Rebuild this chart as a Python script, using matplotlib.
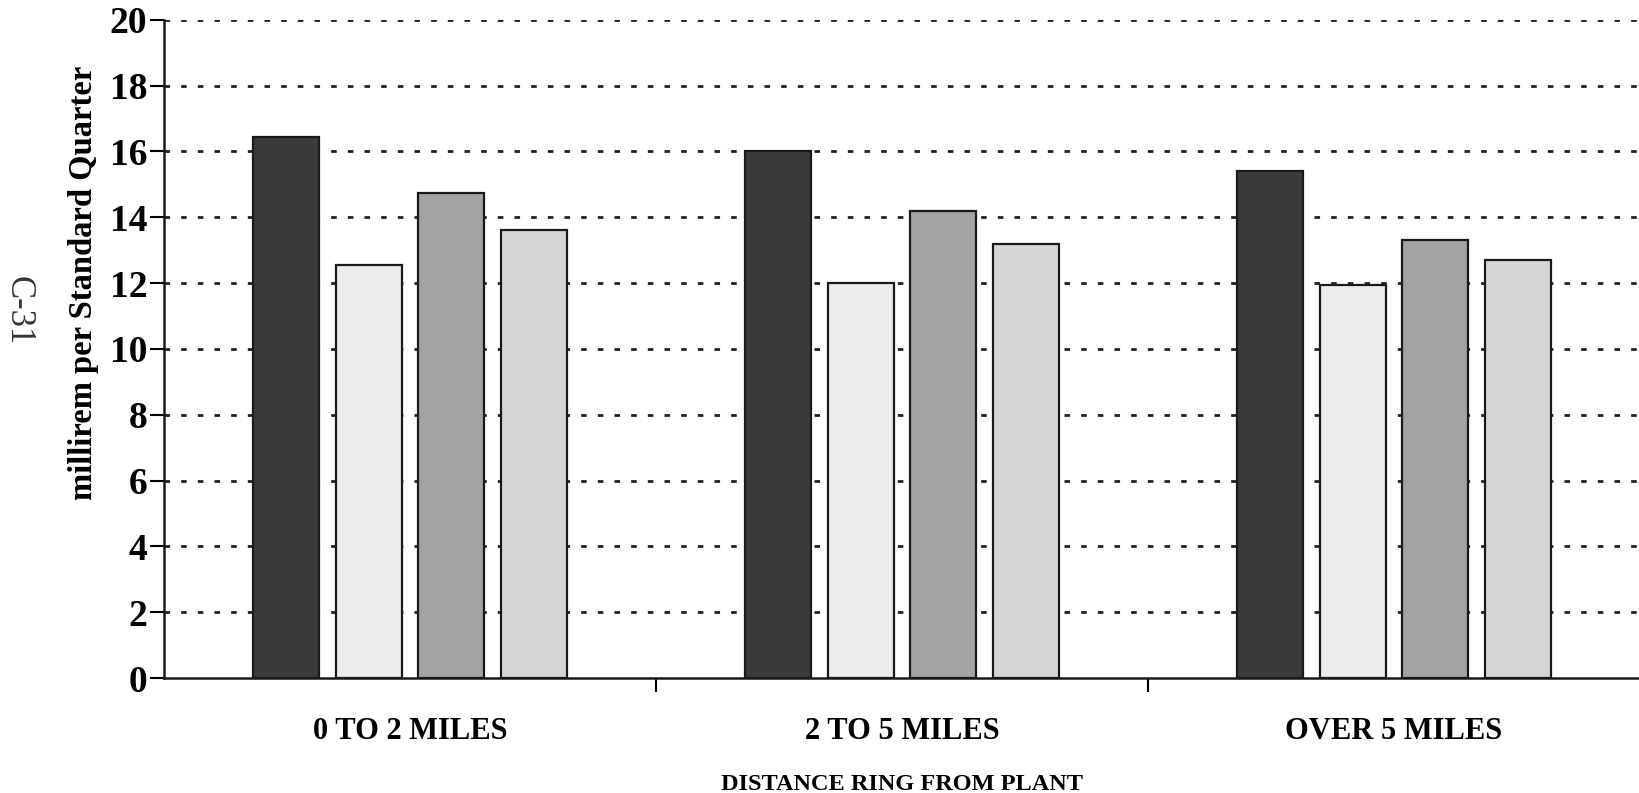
import numpy as np
import matplotlib
matplotlib.use('Agg')
import matplotlib.pyplot as plt

# Data
categories = ['0 TO 2 MILES', '2 TO 5 MILES', 'OVER 5 MILES']
series_1 = [16.45, 16.0, 15.4]
series_2 = [12.55, 12.0, 11.95]
series_3 = [14.75, 14.2, 13.3]
series_4 = [13.6, 13.2, 12.7]
y_ticks = [0, 2, 4, 6, 8, 10, 12, 14, 16, 18, 20]

colors = ['#3b3b3b', '#ececec', '#a3a3a3', '#d6d6d6']

plt.rcParams['font.family'] = ['Liberation Serif', 'DejaVu Serif']

fig = plt.figure(figsize=(16.4, 7.93), dpi=100)
ax = fig.add_axes([0.1, 0.145, 0.9, 0.83])

x = np.arange(len(categories))
pitch = 0.168
width = 0.134
for i, vals in enumerate([series_1, series_2, series_3, series_4]):
    ax.bar(x + (i - 1.5) * pitch, vals, width, color=colors[i],
           edgecolor='#1a1a1a', linewidth=1.6, zorder=3)

ax.set_xlim(-0.5, len(categories) - 0.5)
ax.set_ylim(0, 20)
ax.set_yticks(y_ticks)
ax.set_yticklabels([str(t) for t in y_ticks], fontsize=27, fontweight='bold')
ax.set_xticks(x)
ax.set_xticklabels(categories, fontsize=22, fontweight='bold')
ax.set_xticks([0.5, 1.5], minor=True)
ax.tick_params(axis='x', which='major', length=0, pad=28)
ax.tick_params(axis='x', which='minor', length=10, width=1.5, direction='out')
ax.tick_params(axis='y', length=10, width=1.5, direction='out', pad=2)

for t in y_ticks[1:]:
    ax.axhline(t, color='#222222', linestyle=(0, (2, 4)), linewidth=2, zorder=1)

for s in ['top', 'right']:
    ax.spines[s].set_visible(False)
for s in ['left', 'bottom']:
    ax.spines[s].set_linewidth(1.8)
    ax.spines[s].set_color('#1a1a1a')

ax.set_ylabel('millirem per Standard Quarter', fontsize=23.5, fontweight='bold')
ax.yaxis.set_label_coords(-0.044, 0.60)
ax.set_xlabel('DISTANCE RING FROM PLANT', fontsize=17.5, fontweight='bold', labelpad=20)
fig.text(0.011, 0.608, 'C-31', rotation=270, fontsize=25, ha='center', va='center', color='#333333')

fig.savefig('out.png', dpi=100)
